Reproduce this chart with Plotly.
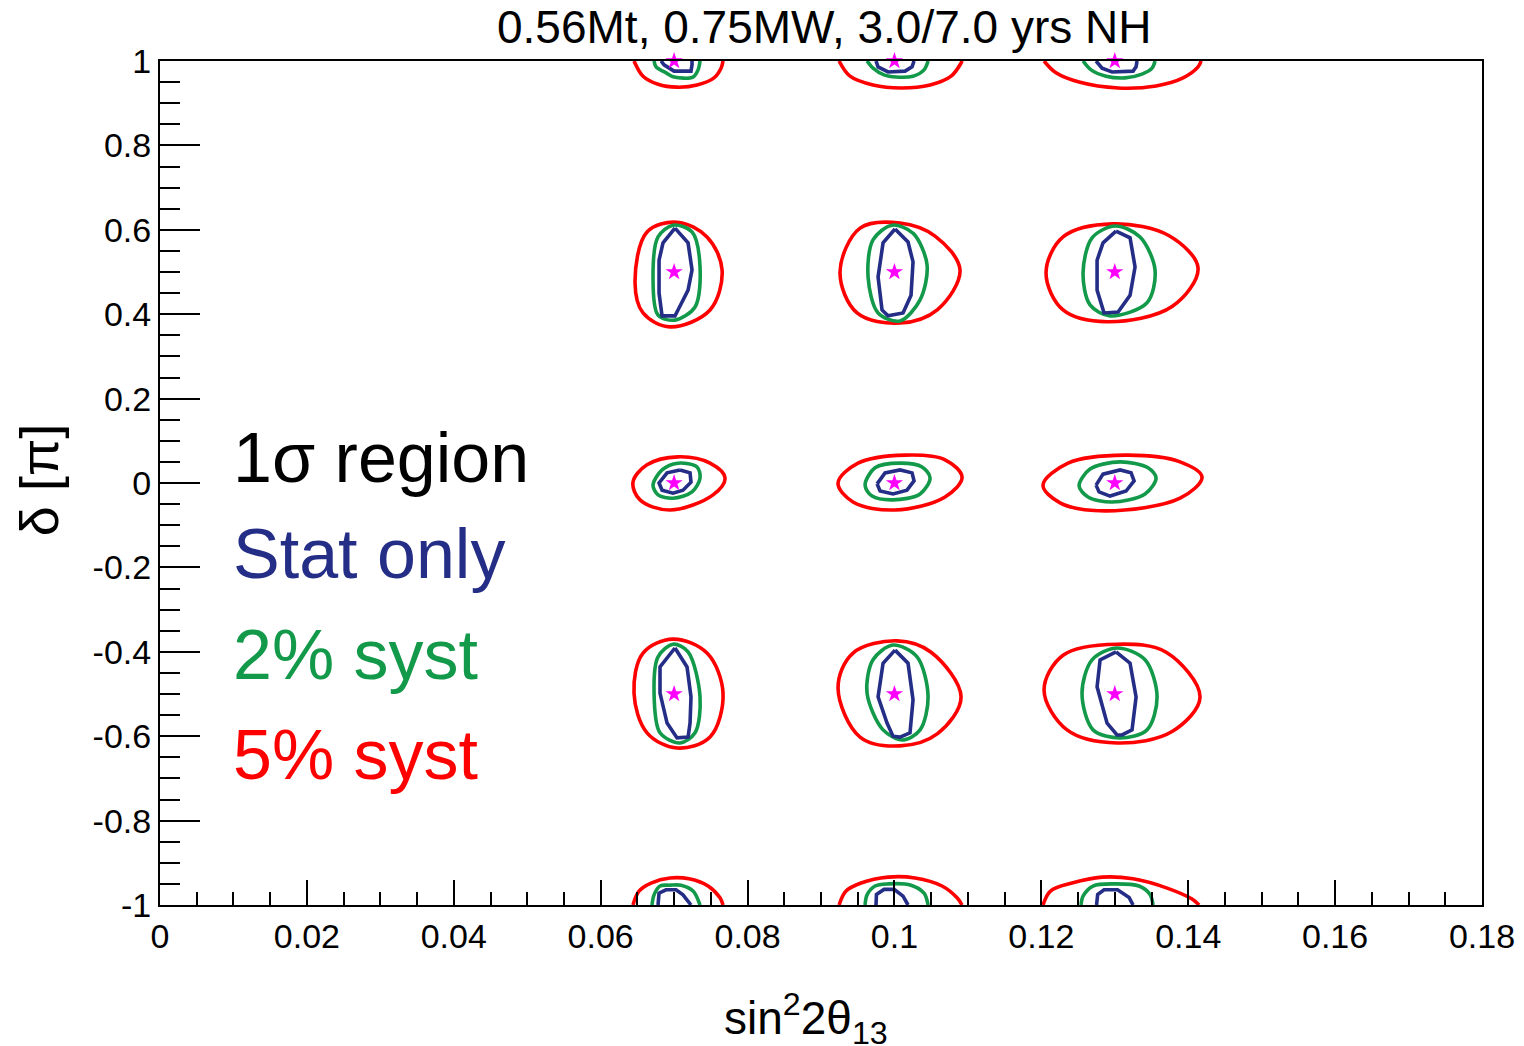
import plotly.graph_objects as go
import numpy as np

# ---------------- data ----------------
TITLE = "0.56Mt, 0.75MW, 3.0/7.0 yrs NH"
X_TITLE = "sin<sup>2</sup>2θ<sub>13</sub>"
Y_TITLE = "δ [π]"
LEGEND_LINES = ["1σ region", "Stat only", "2% syst", "5% syst"]

X_TICK_VALUES = [0, 0.02, 0.04, 0.06, 0.08, 0.10, 0.12, 0.14, 0.16, 0.18]
X_TICK_LABELS = ["0", "0.02", "0.04", "0.06", "0.08", "0.1", "0.12", "0.14", "0.16", "0.18"]
Y_TICK_VALUES = [-1, -0.8, -0.6, -0.4, -0.2, 0, 0.2, 0.4, 0.6, 0.8, 1]
Y_TICK_LABELS = ["-1", "-0.8", "-0.6", "-0.4", "-0.2", "0", "0.2", "0.4", "0.6", "0.8", "1"]

# true points (stars)
TRUE_S2T = [0.07, 0.10, 0.13]
TRUE_DELTA = [1.0, 0.5, 0.0, -0.5]

# ---- contours: (sin^2 2theta13, delta/pi) points ----
# delta = +0.5
red_p05_a = [(0.06468, 0.474), (0.06631, 0.595), (0.0704, 0.618), (0.07448, 0.583), (0.07653, 0.505), (0.07489, 0.410), (0.06944, 0.370), (0.06577, 0.403)]
green_p05_a = [(0.06985, 0.611), (0.07244, 0.595), (0.07353, 0.512), (0.07285, 0.417), (0.07012, 0.386), (0.06781, 0.398), (0.06713, 0.488), (0.06781, 0.583)]
blue_p05_a = [(0.07012, 0.604), (0.0719, 0.569), (0.07244, 0.505), (0.0719, 0.457), (0.07053, 0.410), (0.07012, 0.396), (0.06836, 0.396), (0.06795, 0.450), (0.06795, 0.528), (0.06849, 0.569)]
red_p05_b = [(0.09259, 0.500), (0.09532, 0.604), (0.10076, 0.616), (0.10553, 0.585), (0.10893, 0.505), (0.10587, 0.411), (0.10076, 0.379), (0.09491, 0.403)]
green_p05_b = [(0.09967, 0.611), (0.10253, 0.592), (0.10444, 0.517), (0.10349, 0.434), (0.10076, 0.384), (0.09777, 0.403), (0.09641, 0.488), (0.09708, 0.576)]
blue_p05_b = [(0.10008, 0.602), (0.10185, 0.571), (0.10253, 0.524), (0.10226, 0.445), (0.10117, 0.403), (0.09913, 0.396), (0.09831, 0.410), (0.09777, 0.488), (0.09845, 0.569)]
red_p05_c = [(0.12064, 0.498), (0.12296, 0.583), (0.12977, 0.614), (0.1374, 0.586), (0.14134, 0.509), (0.1378, 0.418), (0.12895, 0.382), (0.12296, 0.410)]
green_p05_c = [(0.13004, 0.609), (0.13344, 0.583), (0.13548, 0.505), (0.13439, 0.427), (0.12936, 0.396), (0.12663, 0.422), (0.12568, 0.498), (0.12691, 0.581)]
blue_p05_c = [(0.13017, 0.597), (0.13208, 0.581), (0.13276, 0.512), (0.13208, 0.445), (0.13045, 0.405), (0.12854, 0.403), (0.12759, 0.457), (0.12759, 0.528), (0.1284, 0.569)]

# delta = -0.5
red_m05_a = [(0.06985, -0.370), (0.07448, -0.403), (0.07666, -0.498), (0.07489, -0.602), (0.0704, -0.628), (0.06631, -0.592), (0.06454, -0.498), (0.06577, -0.403)]
green_m05_a = [(0.06985, -0.382), (0.0719, -0.400), (0.07353, -0.507), (0.07285, -0.592), (0.0708, -0.616), (0.06808, -0.592), (0.06727, -0.498), (0.06781, -0.412)]
blue_m05_a = [(0.07012, -0.391), (0.07176, -0.436), (0.0723, -0.507), (0.07217, -0.569), (0.0719, -0.602), (0.0704, -0.604), (0.06904, -0.569), (0.06808, -0.498), (0.06808, -0.436)]
red_m05_b = [(0.09232, -0.486), (0.09436, -0.403), (0.10035, -0.374), (0.10499, -0.401), (0.10907, -0.507), (0.10587, -0.594), (0.10076, -0.623), (0.09532, -0.602)]
green_m05_b = [(0.09981, -0.384), (0.10308, -0.412), (0.10458, -0.507), (0.10349, -0.585), (0.10117, -0.609), (0.09845, -0.585), (0.09627, -0.498), (0.09708, -0.419)]
blue_m05_b = [(0.10008, -0.396), (0.10185, -0.427), (0.10253, -0.514), (0.10212, -0.592), (0.10076, -0.602), (0.09981, -0.600), (0.09899, -0.569), (0.09777, -0.507), (0.09845, -0.427)]
red_m05_c = [(0.12037, -0.491), (0.12296, -0.408), (0.13031, -0.382), (0.137, -0.401), (0.14161, -0.507), (0.1378, -0.589), (0.13031, -0.616), (0.1235, -0.585)]
green_m05_c = [(0.12554, -0.498), (0.12691, -0.419), (0.13031, -0.391), (0.13412, -0.419), (0.13576, -0.507), (0.13439, -0.585), (0.13072, -0.604), (0.12704, -0.585)]
blue_m05_c = [(0.13017, -0.400), (0.13208, -0.427), (0.1329, -0.507), (0.13235, -0.585), (0.13099, -0.597), (0.13031, -0.597), (0.12895, -0.569), (0.12759, -0.483), (0.128, -0.419)]

# delta = 0
red_z0_a = [(0.0644, 0.002), (0.06631, 0.043), (0.07053, 0.062), (0.07489, 0.047), (0.07693, 0.012), (0.0753, -0.028), (0.06944, -0.064), (0.06536, -0.040)]
green_z0_a = [(0.07053, 0.047), (0.07312, 0.038), (0.07353, 0.012), (0.07244, -0.021), (0.06985, -0.036), (0.06781, -0.028), (0.06713, -0.005), (0.06836, 0.031)]
blue_z0_a = [(0.0708, 0.031), (0.07217, 0.024), (0.0723, 0.002), (0.07121, -0.017), (0.06985, -0.024), (0.06836, -0.017), (0.06795, 0.0), (0.06904, 0.024)]
red_z0_b = [(0.09232, 0.0), (0.09504, 0.047), (0.10144, 0.066), (0.10689, 0.055), (0.10921, 0.014), (0.10689, -0.033), (0.10008, -0.064), (0.09436, -0.045)]
green_z0_b = [(0.096, -0.005), (0.09736, 0.036), (0.10076, 0.047), (0.10376, 0.038), (0.10485, 0.012), (0.10349, -0.026), (0.09981, -0.040), (0.09695, -0.031)]
blue_z0_b = [(0.09764, -0.002), (0.09872, 0.024), (0.10076, 0.031), (0.1024, 0.024), (0.10267, 0.005), (0.10171, -0.017), (0.09981, -0.026), (0.09804, -0.019)]
red_z0_c = [(0.12023, -0.005), (0.12364, 0.047), (0.1314, 0.066), (0.13889, 0.050), (0.14188, 0.014), (0.13889, -0.036), (0.12868, -0.066), (0.12255, -0.047)]
green_z0_c = [(0.12514, -0.007), (0.12663, 0.033), (0.13072, 0.050), (0.13453, 0.036), (0.13562, 0.012), (0.13412, -0.026), (0.12963, -0.045), (0.12636, -0.033)]
blue_z0_c = [(0.12745, -0.005), (0.1284, 0.021), (0.13072, 0.031), (0.13222, 0.024), (0.13263, 0.005), (0.13154, -0.019), (0.12936, -0.031), (0.12786, -0.021)]

# delta = +1 (wrapped, lower halves only)
red_p1_a = [(0.06454, 1.0), (0.06577, 0.964), (0.06781, 0.945), (0.0704, 0.938), (0.07312, 0.943), (0.07543, 0.960), (0.07639, 0.983), (0.07666, 1.0)]
green_p1_a = [(0.06727, 1.0), (0.06754, 0.986), (0.0689, 0.972), (0.06999, 0.962), (0.07258, 0.962), (0.07326, 0.979), (0.07353, 1.0)]
blue_p1_a = [(0.06822, 1.0), (0.06863, 0.991), (0.06999, 0.976), (0.0723, 0.976), (0.07244, 0.991), (0.07244, 1.0)]
red_p1_b = [(0.09246, 1.0), (0.09395, 0.964), (0.09709, 0.943), (0.1009, 0.936), (0.10485, 0.943), (0.10771, 0.964), (0.10907, 0.995), (0.1092, 1.0)]
green_p1_b = [(0.09627, 1.0), (0.09709, 0.983), (0.09858, 0.967), (0.10022, 0.962), (0.10253, 0.964), (0.10403, 0.979), (0.10458, 1.0)]
blue_p1_b = [(0.09749, 1.0), (0.09777, 0.986), (0.09913, 0.974), (0.10144, 0.976), (0.1024, 0.986), (0.10267, 1.0)]
red_p1_c = [(0.12037, 1.0), (0.122, 0.972), (0.12514, 0.950), (0.13045, 0.936), (0.13562, 0.941), (0.1393, 0.960), (0.14134, 0.986), (0.14175, 1.0)]
green_p1_c = [(0.12568, 1.0), (0.12677, 0.979), (0.12881, 0.964), (0.1314, 0.960), (0.13371, 0.969), (0.13508, 0.983), (0.13548, 1.0)]
blue_p1_c = [(0.12745, 1.0), (0.12827, 0.983), (0.12963, 0.974), (0.13249, 0.976), (0.1329, 0.986), (0.13303, 1.0)]

# delta = -1 (wrapped, upper halves only)
red_m1_a = [(0.0644, -1.0), (0.06522, -0.967), (0.06686, -0.948), (0.06944, -0.936), (0.07203, -0.938), (0.07462, -0.955), (0.07625, -0.983), (0.07666, -1.0)]
green_m1_a = [(0.06699, -1.0), (0.06727, -0.976), (0.06808, -0.955), (0.06944, -0.953), (0.07094, -0.953), (0.07258, -0.967), (0.07353, -1.0)]
blue_m1_a = [(0.06781, -1.0), (0.06795, -0.972), (0.0689, -0.964), (0.07026, -0.964), (0.07121, -0.976), (0.0723, -1.0)]
red_m1_b = [(0.09246, -1.0), (0.09341, -0.967), (0.09545, -0.948), (0.09913, -0.934), (0.1028, -0.936), (0.10648, -0.955), (0.10853, -0.983), (0.1092, -1.0)]
green_m1_b = [(0.096, -1.0), (0.09627, -0.976), (0.09736, -0.955), (0.09913, -0.950), (0.10226, -0.953), (0.10403, -0.972), (0.10458, -1.0)]
blue_m1_b = [(0.09749, -1.0), (0.09755, -0.975), (0.09858, -0.963), (0.09995, -0.963), (0.10117, -0.979), (0.10185, -1.0)]
red_m1_c = [(0.12023, -1.0), (0.12124, -0.967), (0.12418, -0.948), (0.12827, -0.934), (0.13249, -0.938), (0.13712, -0.960), (0.14052, -0.986), (0.14148, -1.0)]
green_m1_c = [(0.12541, -1.0), (0.12568, -0.979), (0.12704, -0.955), (0.1299, -0.950), (0.1333, -0.955), (0.1348, -0.975), (0.13521, -1.0)]
blue_m1_c = [(0.12752, -1.0), (0.12767, -0.975), (0.12854, -0.964), (0.13038, -0.964), (0.13195, -0.982), (0.13249, -1.0)]

# ---------------- styling ----------------
C_STAT = "#252e86"
C_SYS2 = "#12994a"
C_SYS5 = "#ff0000"
C_STAR = "#ff00ff"
FONT = "Liberation Sans, Arial, sans-serif"

closed_sets = {
    "red": [red_p05_a, red_p05_b, red_p05_c, red_m05_a, red_m05_b, red_m05_c, red_z0_a, red_z0_b, red_z0_c],
    "green": [green_p05_a, green_p05_b, green_p05_c, green_m05_a, green_m05_b, green_m05_c, green_z0_a, green_z0_b, green_z0_c],
    "blue": [blue_p05_a, blue_p05_b, blue_p05_c, blue_m05_a, blue_m05_b, blue_m05_c, blue_z0_a, blue_z0_b, blue_z0_c],
}
open_sets = {
    "red": [red_p1_a, red_p1_b, red_p1_c, red_m1_a, red_m1_b, red_m1_c],
    "green": [green_p1_a, green_p1_b, green_p1_c, green_m1_a, green_m1_b, green_m1_c],
    "blue": [blue_p1_a, blue_p1_b, blue_p1_c, blue_m1_a, blue_m1_b, blue_m1_c],
}
style = {
    "red": dict(color=C_SYS5, shape="spline", smoothing=1.0),
    "green": dict(color=C_SYS2, shape="spline", smoothing=0.9),
    "blue": dict(color=C_STAT, shape="linear", smoothing=0),
}
LW = 3.6

fig = go.Figure()
for key in ["red", "green", "blue"]:
    st = style[key]
    groups = [(pts, True) for pts in closed_sets[key]] + [(pts, False) for pts in open_sets[key]]
    for pts, closed in groups:
        xs = [p[0] for p in pts]
        ys = [p[1] for p in pts]
        if closed:
            xs = xs + [pts[0][0]]
            ys = ys + [pts[0][1]]
        line = dict(color=st["color"], width=LW, shape=st["shape"])
        if st["shape"] == "spline":
            line["smoothing"] = st["smoothing"]
        fig.add_trace(go.Scatter(x=xs, y=ys, mode="lines", line=line,
                                 showlegend=False, hoverinfo="skip"))

star_x = [s for d in TRUE_DELTA for s in TRUE_S2T]
star_y = [d for d in TRUE_DELTA for s in TRUE_S2T]
fig.add_trace(go.Scatter(x=star_x, y=star_y, mode="markers",
                         marker=dict(symbol="star", size=13, color=C_STAR, line=dict(width=0)),
                         cliponaxis=False, showlegend=False, hoverinfo="skip"))

axis_common = dict(
    showgrid=False, zeroline=False, showline=True, mirror=True, automargin=False,
    linecolor="black", linewidth=2, ticks="inside", tickcolor="black",
    tickwidth=1.5, tickfont=dict(family=FONT, size=34, color="black"),
)
fig.update_xaxes(range=[0, 0.18], tickmode="array", tickvals=X_TICK_VALUES,
                 ticktext=X_TICK_LABELS, ticklen=25,
                 minor=dict(tickmode="array", tickvals=list(np.round(np.arange(0, 0.1801, 0.005), 4)),
                            ticklen=13, ticks="inside", tickcolor="black", tickwidth=1.5),
                 **axis_common)
fig.update_yaxes(range=[-1, 1], tickmode="array", tickvals=Y_TICK_VALUES,
                 ticktext=Y_TICK_LABELS, ticklen=40,
                 minor=dict(tickmode="array", tickvals=list(np.round(np.arange(-1, 1.0001, 0.05), 4)),
                            ticklen=20, ticks="inside", tickcolor="black", tickwidth=1.5),
                 **axis_common)

annotations = [
    dict(text=TITLE, xref="paper", yref="paper", x=0.502, y=1.040, xanchor="center", yanchor="middle",
         showarrow=False, font=dict(family=FONT, size=46, color="black")),
    dict(text=X_TITLE, xref="paper", yref="paper", x=0.489, y=-0.1345, xanchor="center", yanchor="middle",
         showarrow=False, font=dict(family=FONT, size=46, color="black")),
    dict(text=Y_TITLE, xref="paper", yref="paper", x=-0.091, y=0.503, xanchor="center", yanchor="middle",
         textangle=-90, showarrow=False, font=dict(family=FONT, size=54, color="black")),
]
legend_colors = ["black", C_STAT, C_SYS2, C_SYS5]
legend_y = [0.059, -0.168, -0.408, -0.645]
for txt, col, yy in zip(LEGEND_LINES, legend_colors, legend_y):
    annotations.append(dict(text=txt, xref="x", yref="y", x=0.0097, y=yy, xanchor="left",
                            yanchor="middle", showarrow=False,
                            font=dict(family=FONT, size=70, color=col)))

fig.update_layout(
    width=1524, height=1046,
    margin=dict(l=160, r=42, t=61, b=141),
    paper_bgcolor="white", plot_bgcolor="white",
    annotations=annotations,
    showlegend=False,
)

# remove the default page margin so the figure fills the window exactly
fig.write_html("out.html", config={"displayModeBar": False},
               post_script="document.body.style.margin='0px';document.body.style.overflow='hidden';")
